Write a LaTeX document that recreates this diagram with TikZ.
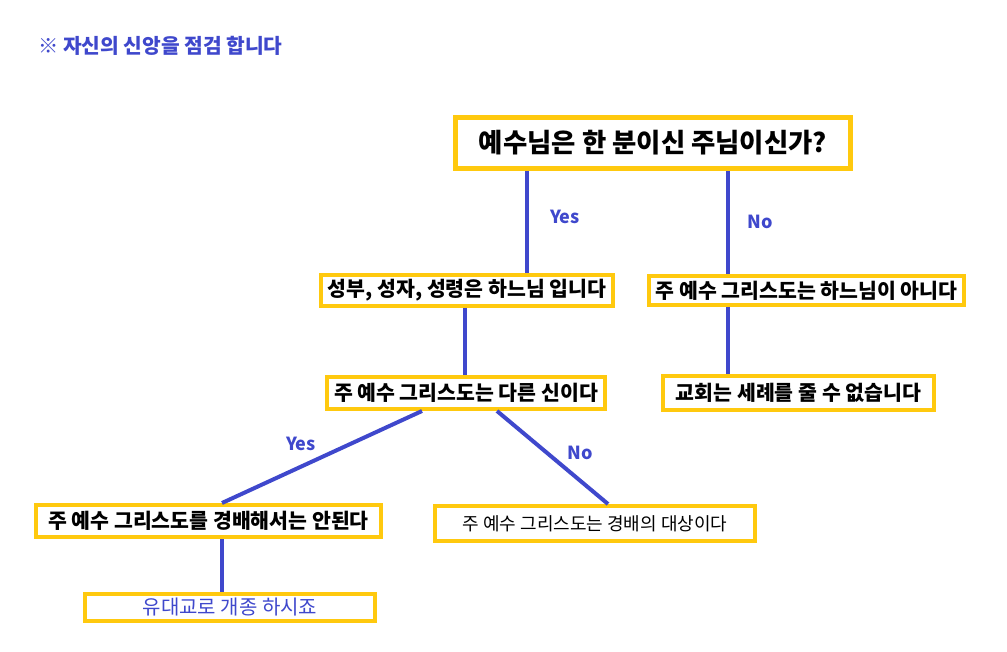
\documentclass[tikz,border=0pt]{standalone}
\usepackage{fontspec}
\setmainfont{Noto Sans CJK KR}
\definecolor{lblue}{HTML}{3F48CC}
\definecolor{byellow}{HTML}{FFC90E}
\tikzset{
  box/.style={draw=byellow, line width=4pt, fill=white, inner sep=0pt, font=\bfseries\fontsize{20.5}{24}\selectfont},
  conn/.style={draw=lblue, line width=4pt},
  lbl/.style={text=lblue, font=\bfseries\fontsize{18}{21}\selectfont, inner sep=0pt}
}
\begin{document}
\begin{tikzpicture}[x=1pt,y=-1pt]
\useasboundingbox (0,0) rectangle (1007,652);
\node[text=lblue, font=\bfseries\fontsize{20.3}{23}\selectfont, anchor=west, inner sep=0pt] (title) at (38,46) {※ 자신의 신앙을 점검 합니다};

\node[box, line width=5pt, minimum width=395pt, minimum height=51pt, font=\bfseries\fontsize{26.4}{30}\selectfont] (b1) at (653,143) {예수님은 한 분이신 주님이신가?};
\node[box, minimum width=292pt, minimum height=31pt] (b2) at (467,290.5) {성부, 성자, 성령은 하느님 입니다};
\node[box, minimum width=315pt, minimum height=29pt] (b3) at (806.5,290.5) {주 예수 그리스도는 하느님이 아니다};
\node[box, minimum width=278pt, minimum height=32pt] (b4) at (466,393) {주 예수 그리스도는 다른 신이다};
\node[box, minimum width=271pt, minimum height=34pt] (b5) at (798.5,393) {교회는 세례를 줄 수 없습니다};
\node[box, minimum width=345pt, minimum height=32pt] (b6) at (208.5,521) {주 예수 그리스도를 경배해서는 안된다};
\node[box, minimum width=320pt, minimum height=35pt, font=\fontsize{18}{21}\selectfont] (b7) at (595,523.5) {주 예수 그리스도는 경배의 대상이다};
\node[box, minimum width=290pt, minimum height=27pt, text=lblue, font=\fontsize{20}{23}\selectfont] (b8) at (230,607.5) {유대교로 개종 하시죠};

\draw[conn] (b1.south -| 527,0) -- (b2.north -| 527,0);
\draw[conn] (b1.south -| 728,0) -- (b3.north -| 728,0);
\draw[conn] (b2.south -| 465,0) -- (b4.north -| 465,0);
\draw[conn] (b3.south -| 728,0) -- (b5.north -| 728,0);
\draw[conn] (b4.south -| 422,0) -- (b6.north -| 222,0);
\draw[conn] (b4.south -| 497,0) -- (b7.north -| 608,0);
\draw[conn] (b6.south -| 222,0) -- (b8.north -| 222,0);

\node[lbl] (l1) at (565,217) {Yes};
\node[lbl] (l2) at (760,222) {No};
\node[lbl] (l3) at (301,444) {Yes};
\node[lbl] (l4) at (580,453) {No};
\end{tikzpicture}
\end{document}
